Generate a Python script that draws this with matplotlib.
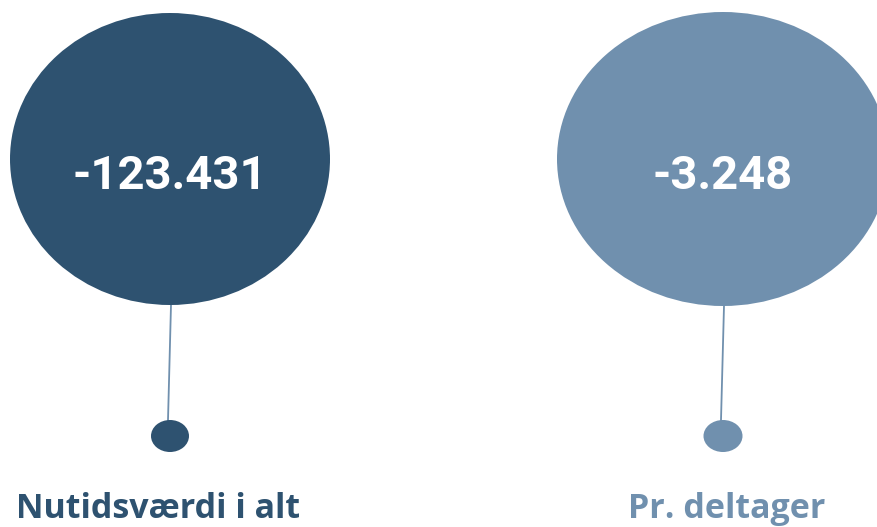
import matplotlib.pyplot as plt
from matplotlib.patches import Ellipse

# data
labels = ["Nutidsværdi i alt", "Pr. deltager"]
values = [-123431, -3248]
colors = ["#2E5270", "#7090AE"]
line_color = "#7090AE"

# layout in pixels (figure is 878x527)
big_x = [170, 723]
big_y = 159
big_w = [320, 332]
big_h = [292, 294]
dot_x = [170, 723]
dot_y = 436
dot_w = [38, 39]
dot_h = 32
label_x = [158.5, 727]


def fmt(v):
    # danish thousands separator
    return f"{v:,}".replace(",", ".")


fig = plt.figure(figsize=(8.78, 5.27), dpi=100)
ax = fig.add_axes([0, 0, 1, 1])
ax.set_xlim(0, 878)
ax.set_ylim(527, 0)
ax.axis("off")

for i in range(len(values)):
    # stem from big circle to small dot
    ax.plot([big_x[i] + 1, dot_x[i] - 2], [big_y + big_h[i] / 2, dot_y - dot_h / 2],
            color=line_color, lw=1.3, zorder=1)
    ax.add_patch(Ellipse((big_x[i], big_y), big_w[i], big_h[i],
                         facecolor=colors[i], edgecolor="none", zorder=2))
    ax.add_patch(Ellipse((dot_x[i], dot_y), dot_w[i], dot_h,
                         facecolor=colors[i], edgecolor="none", zorder=2))
    ax.text(big_x[i], 189, fmt(values[i]), color="white", fontsize=34,
            fontweight="bold", family="Roboto", ha="center", va="baseline", zorder=3)
    ax.text(label_x[i], 517.5, labels[i], color=colors[i],
            fontsize=24.5, fontweight="bold", family="Open Sans", ha="center", va="baseline")

fig.savefig("out.png", dpi=100)
